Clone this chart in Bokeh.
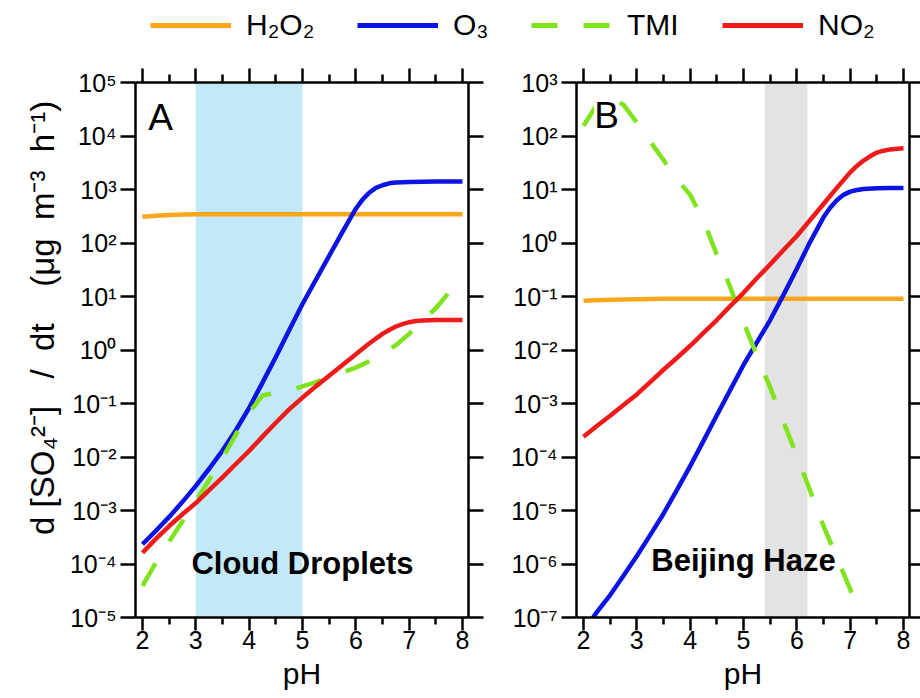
from bokeh.plotting import figure
from bokeh.models import (Range1d, FixedTicker, LinearAxis, LogAxis, CustomJSTickFormatter,
                          BoxAnnotation, Label, Legend, LegendItem)
from bokeh.layouts import column, row
from bokeh.embed import file_html
from bokeh.resources import INLINE

FONT = "Liberation Sans"

# ---------------- data ----------------
# Panel A: cloud droplets
ph_a = [2.0, 2.25, 2.5, 2.75, 3.0, 3.25, 3.5, 3.75, 4.0, 4.25, 4.5, 4.75, 5.0,
        5.25, 5.5, 5.75, 6.0, 6.25, 6.5, 6.75, 7.0, 7.25, 7.5, 7.75, 8.0]
h2o2_a = [309, 324, 335, 342, 345, 346, 346, 346, 346, 346, 346, 346, 346,
          346, 346, 346, 346, 346, 346, 346, 346, 346, 346, 346, 346]
tmi_a = [3.89e-5, 1.05e-4, 2.63e-4, 6.31e-4, 1.51e-3, 3.72e-3, 9.55e-3, 2.63e-2, 6.76e-2,
         0.141, 0.158, 0.174, 0.209, 0.251, 0.309, 0.380, 0.468, 0.617, 0.832, 1.23,
         2.00, 3.55, 6.03, 12.0, 20.4]
ph_a_o3 = [2.0, 2.25, 2.5, 2.75, 3.0, 3.25, 3.5, 3.75, 4.0, 4.25, 4.5, 4.75, 5.0,
           5.25, 5.5, 5.75, 6.0, 6.125, 6.25, 6.375, 6.5, 6.625, 6.75, 7.0, 7.25, 7.5,
           7.75, 8.0]
o3_a = [2.34e-4, 4.17e-4, 7.59e-4, 1.45e-3, 2.88e-3, 6.03e-3, 1.32e-2, 3.16e-2, 8.32e-2,
        0.245, 0.741, 2.34, 7.24, 20.4, 57.5, 162, 437, 646, 871, 1072, 1202, 1303, 1349,
        1380, 1396, 1413, 1413, 1413]
ph_a_no2 = [2.0, 2.25, 2.5, 2.75, 3.0, 3.25, 3.5, 3.75, 4.0, 4.25, 4.5, 4.75, 5.0,
            5.25, 5.5, 5.75, 6.0, 6.25, 6.5, 6.625, 6.75, 6.875, 7.0, 7.125, 7.25, 7.5,
            7.75, 8.0]
no2_a = [1.62e-4, 2.95e-4, 5.13e-4, 8.51e-4, 1.38e-3, 2.40e-3, 4.17e-3, 7.41e-3, 1.30e-2,
         2.40e-2, 4.37e-2, 7.76e-2, 0.129, 0.209, 0.331, 0.525, 0.832, 1.32, 2.00, 2.37,
         2.75, 3.05, 3.31, 3.47, 3.55, 3.63, 3.63, 3.63]

# Panel B: Beijing haze
ph_b = [2.0, 2.25, 2.5, 2.75, 3.0, 3.25, 3.5, 3.75, 4.0, 4.25, 4.5, 4.75, 5.0,
        5.25, 5.5, 5.75, 6.0, 6.25, 6.5, 6.75, 7.0, 7.25, 7.5, 7.75, 8.0]
h2o2_b = [0.083, 0.085, 0.087, 0.088, 0.089, 0.090, 0.091, 0.091, 0.091, 0.091, 0.091,
          0.091, 0.091, 0.091, 0.091, 0.091, 0.091, 0.091, 0.091, 0.091, 0.091, 0.091,
          0.091, 0.091, 0.091]
ph_b_o3 = [2.0, 2.25, 2.5, 2.75, 3.0, 3.25, 3.5, 3.75, 4.0, 4.25, 4.5, 4.75, 5.0,
           5.25, 5.5, 5.75, 6.0, 6.25, 6.5, 6.625, 6.75, 6.875, 7.0, 7.125, 7.25, 7.5,
           7.75, 8.0]
o3_b = [5.50e-8, 1.26e-7, 2.63e-7, 6.03e-7, 1.41e-6, 3.47e-6, 8.71e-6, 2.40e-5, 6.76e-5,
        2.00e-4, 6.03e-4, 1.78e-3, 5.25e-3, 1.38e-2, 3.63e-2, 0.107, 0.331, 1.05, 3.02,
        4.57, 6.31, 7.94, 9.12, 9.77, 10.2, 10.5, 10.7, 10.7]
ph_b_no2 = [2.0, 2.25, 2.5, 2.75, 3.0, 3.25, 3.5, 3.75, 4.0, 4.25, 4.5, 4.75, 5.0,
            5.25, 5.5, 5.75, 6.0, 6.25, 6.5, 6.75, 7.0, 7.125, 7.25, 7.375, 7.5, 7.625,
            7.75, 8.0]
no2_b = [2.40e-4, 3.80e-4, 5.89e-4, 9.33e-4, 1.48e-3, 2.51e-3, 4.27e-3, 7.08e-3, 1.20e-2,
         2.09e-2, 3.63e-2, 6.61e-2, 0.117, 0.219, 0.398, 0.741, 1.35, 2.69, 5.37, 10.7,
         20.9, 27.5, 34.7, 41.7, 49.0, 53.1, 56.2, 58.9]
ph_b_tmi = [2.0, 2.25, 2.5, 2.75, 3.0, 3.25, 3.5, 3.75, 4.0, 4.25, 4.5, 4.75, 5.0,
            5.25, 5.5, 5.75, 6.0, 6.25, 6.5, 6.75, 7.0, 7.25]
tmi_b = [155, 380, 550, 380, 178, 79.4, 35.5, 15.8, 7.94, 2.63, 0.603, 0.151, 3.31e-2,
         7.94e-3, 2.00e-3, 4.57e-4, 1.05e-4, 2.34e-5, 5.13e-6, 1.32e-6, 3.39e-7, 7.08e-8]

series_names = ["H\u2082O\u2082", "O\u2083", "TMI", "NO\u2082"]
series_colors = ["#F9A61C", "#0B14E0", "#7FE41E", "#EE1B1B"]
series_dash = ["solid", "solid", "26 26", "solid"]

x_ticks = [2, 3, 4, 5, 6, 7, 8]
x_minor = [2.5, 3.5, 4.5, 5.5, 6.5, 7.5]
ya_ticks = [1e-5, 1e-4, 1e-3, 1e-2, 1e-1, 1e0, 1e1, 1e2, 1e3, 1e4, 1e5]
ya_labels = ["10\u207b\u2075", "10\u207b\u2074", "10\u207b\u00b3", "10\u207b\u00b2", "10\u207b\u00b9",
             "10\u2070", "10\u00b9", "10\u00b2", "10\u00b3", "10\u2074", "10\u2075"]
yb_ticks = [1e-7, 1e-6, 1e-5, 1e-4, 1e-3, 1e-2, 1e-1, 1e0, 1e1, 1e2, 1e3]
yb_labels = ["10\u207b\u2077", "10\u207b\u2076", "10\u207b\u2075", "10\u207b\u2074", "10\u207b\u00b3",
             "10\u207b\u00b2", "10\u207b\u00b9", "10\u2070", "10\u00b9", "10\u00b2", "10\u00b3"]

NB = "\u00a0"
y_label = (NB * 7 + "d" + NB + "[SO\u2084\u00b2\u207b]" + NB * 3 + "/" + NB * 2 + "dt" + NB * 4
           + "(\u03bcg" + NB * 2 + "m\u207b\u00b3" + NB * 2 + "h\u207b\u00b9)")
x_label = "pH"

FMT_CODE = """
let b = 0, bd = 1e9;
for (let i = 0; i < tv.length; i++) {
  const d = Math.abs(Math.log10(tick) - Math.log10(tv[i]));
  if (d < bd) { bd = d; b = i; }
}
return tl[b];
"""


def base_axis(ax):
    ax.axis_line_width = 2.5
    ax.axis_line_color = "black"
    ax.major_tick_line_width = 2.5
    ax.minor_tick_line_width = 2.5
    ax.major_tick_line_color = "black"
    ax.minor_tick_line_color = "black"
    ax.major_tick_in = 0
    ax.minor_tick_in = 0
    ax.major_label_text_font = FONT
    ax.axis_label_text_font = FONT
    ax.axis_label_text_font_style = "normal"
    ax.major_label_text_color = "black"
    ax.axis_label_text_color = "black"


def hide_labels(ax):
    ax.formatter = CustomJSTickFormatter(code="return '';")
    ax.major_label_text_color = None
    ax.major_label_text_font_size = "1px"
    ax.major_label_standoff = 0


def make_panel(width, left, right, right_tick, y_lo, y_hi, yticks, ylabels, ylab):
    p = figure(width=width, height=634, x_range=Range1d(1.869, 8.1125),
               y_range=Range1d(y_lo, y_hi), y_axis_type="log",
               output_backend="svg", toolbar_location=None,
               min_border_left=left, min_border_right=right,
               min_border_top=18, min_border_bottom=81)
    p.outline_line_color = None
    p.grid.visible = False
    p.background_fill_color = "white"
    p.border_fill_color = "white"

    xa = p.xaxis[0]
    base_axis(xa)
    xa.ticker = FixedTicker(ticks=x_ticks, minor_ticks=x_minor)
    xa.major_tick_out = 13
    xa.minor_tick_out = 7
    xa.major_label_text_font_size = "25px"
    xa.major_label_standoff = 0
    xa.axis_label = x_label
    xa.axis_label_text_font_size = "30px"
    xa.axis_label_standoff = 5

    ya = p.yaxis[0]
    base_axis(ya)
    ya.ticker = FixedTicker(ticks=yticks)
    ya.formatter = CustomJSTickFormatter(args=dict(tv=yticks, tl=ylabels), code=FMT_CODE)
    ya.major_tick_out = 15
    ya.minor_tick_out = 0
    ya.major_label_text_font_size = "25px"
    ya.major_label_standoff = 4
    if ylab:
        ya.axis_label = ylab
        ya.axis_label_text_font_size = "33px"
        ya.axis_label_standoff = 6

    top = LinearAxis(ticker=FixedTicker(ticks=x_ticks, minor_ticks=x_minor))
    base_axis(top)
    top.major_tick_out = 14
    top.minor_tick_out = 8
    hide_labels(top)
    p.add_layout(top, "above")

    rt = LogAxis(ticker=FixedTicker(ticks=yticks))
    base_axis(rt)
    rt.major_tick_out = right_tick
    rt.minor_tick_out = 0
    hide_labels(rt)
    p.add_layout(rt, "right")
    return p


pA = make_panel(490, 135, 22, 15, 1e-5, 1e5, ya_ticks, ya_labels, y_label)
pB = make_panel(430, 86, 11, 11, 1e-7, 1e3, yb_ticks, yb_labels, None)

pA.add_layout(BoxAnnotation(left=3, right=5, fill_color="#C3E8F8", fill_alpha=1.0,
                            line_color=None, level="underlay"))
pB.add_layout(BoxAnnotation(left=5.4, right=6.2, fill_color="#E3E3E3", fill_alpha=1.0,
                            line_color=None, level="underlay"))

for xs, ys, i in [(ph_a, h2o2_a, 0), (ph_a_o3, o3_a, 1), (ph_a, tmi_a, 2), (ph_a_no2, no2_a, 3)]:
    pA.line(xs, ys, line_color=series_colors[i], line_width=4.5,
            line_dash=series_dash[i], line_join="round")
for xs, ys, i in [(ph_b, h2o2_b, 0), (ph_b_o3, o3_b, 1), (ph_b_tmi, tmi_b, 2), (ph_b_no2, no2_b, 3)]:
    pB.line(xs, ys, line_color=series_colors[i], line_width=4.5,
            line_dash=series_dash[i], line_join="round")

pA.add_layout(Label(x=2.11, y=2.2e4, text="A", text_font=FONT, text_font_size="37px",
                    text_baseline="alphabetic", text_color="black"))
pB.add_layout(Label(x=2.2, y=245, text="B", text_font=FONT, text_font_size="37px",
                    text_baseline="alphabetic", text_color="black",
                    background_fill_color="white", background_fill_alpha=1.0))
pA.add_layout(Label(x=5.0, y=1.04e-4, text="Cloud Droplets", text_font=FONT,
                    text_font_size="31px", text_font_style="bold", text_align="center",
                    text_baseline="alphabetic", text_color="black"))
pB.add_layout(Label(x=5.0, y=1.17e-6, text="Beijing Haze", text_font=FONT,
                    text_font_size="31px", text_font_style="bold", text_align="center",
                    text_baseline="alphabetic", text_color="black"))

# ---------------- legend strip ----------------
pL = figure(width=920, height=64, x_range=Range1d(0, 1), y_range=Range1d(0, 1),
            output_backend="svg", toolbar_location=None, min_border=0,
            min_border_left=0, min_border_right=0, min_border_top=0, min_border_bottom=0,
            x_axis_location=None, y_axis_location=None)
pL.outline_line_color = None
pL.grid.visible = False
legend_src = [(ph_a, h2o2_a), (ph_a_o3, o3_a), (ph_a, tmi_a), (ph_a_no2, no2_a)]
legend_x = [150, 357, 531, 722]
for i, name in enumerate(series_names):
    xs, ys = legend_src[i]
    # a single off-range point: nothing is drawn, only the legend sample uses it
    r = pL.line(x=xs[:1], y=ys[:1], line_color=series_colors[i], line_width=5,
                line_dash=series_dash[i])
    leg = Legend(items=[LegendItem(label=name, renderers=[r])], orientation="horizontal",
                 location=(legend_x[i], 22),
                 glyph_width=81, glyph_height=32, label_height=32, label_standoff=15,
                 spacing=0, padding=0, margin=0, border_line_color=None,
                 background_fill_alpha=0, label_text_font=FONT, label_text_font_size="30px",
                 label_text_color="black")
    pL.add_layout(leg)

layout = column(pL, row(pA, pB))
open("out.html", "w").write(file_html(layout, INLINE))
